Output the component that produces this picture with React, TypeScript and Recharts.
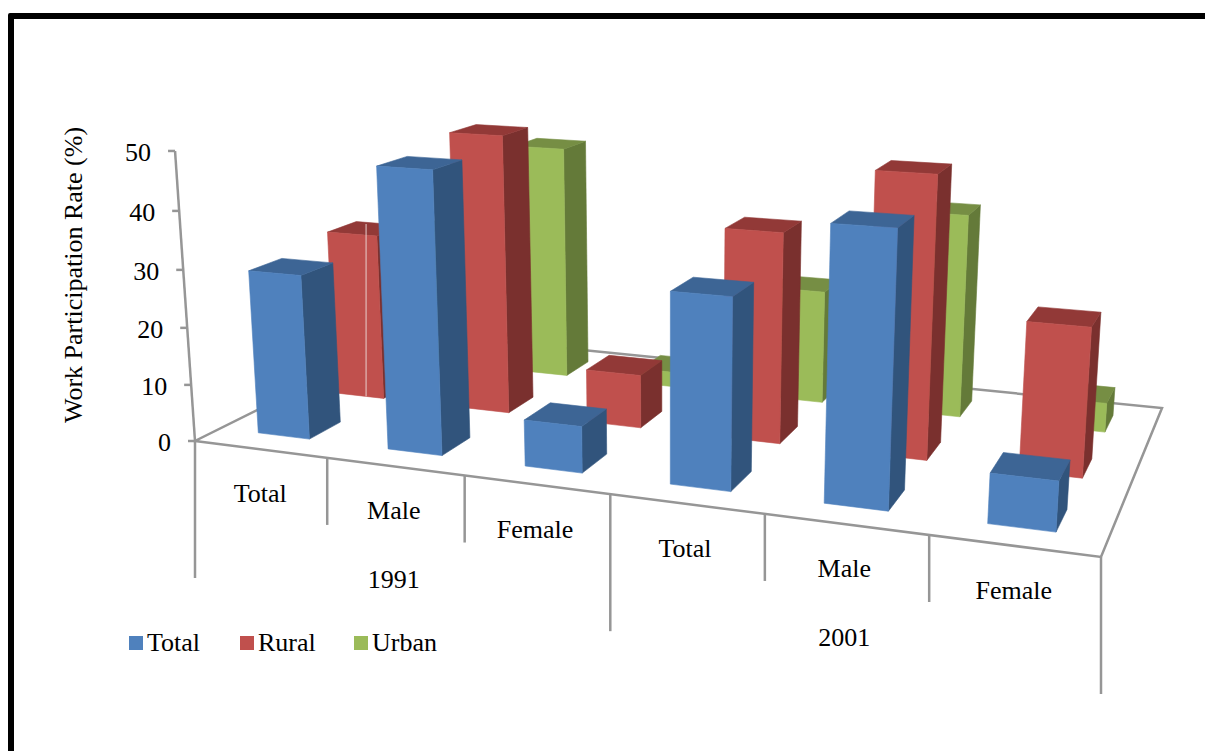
import { Bar, BarChart, Legend, XAxis, YAxis } from "recharts";

const WIDTH = 1205;
const HEIGHT = 751;

const categories = ["Total", "Male", "Female", "Total", "Male", "Female"];
const years = ["1991", "2001"];
const yTicks = [0, 10, 20, 30, 40, 50];

const totalValues = [28.8, 48.2, 7.9, 31.6, 44.1, 8];
const ruralValues = [30.5, 50, 9.5, 36.6, 47.9, 25.1];
const urbanValues = [26, 43.8, 2.8, 20.7, 36.5, 5.2];

const rows = categories.map((name, i) => ({
  name,
  Total: totalValues[i],
  Rural: ruralValues[i],
  Urban: urbanValues[i],
}));

// front, side and top face colours; depth is the row along the floor
const SERIES = [
  { key: "Urban", front: "#9BBB59", side: "#647A39", top: "#768E44", depth: 2 },
  { key: "Rural", front: "#C0504D", side: "#7A302E", top: "#923937", depth: 1 },
  { key: "Total", front: "#4F81BD", side: "#31547C", top: "#3D6595", depth: 0 },
];
const LEGEND_ORDER = ["Total", "Rural", "Urban"];

const GRID = "#969696";
const FONT = "'Liberation Serif', serif";
const FONT_SIZE = 26;

// gap width 150%: a column takes 40% of its slot on both floor directions
const BAR_WIDTH = (WIDTH / categories.length) * 0.4;
const DEPTH_SLOT = 1 / 3;
// inner category dividers sit slightly further along the front edge
const DIVIDER_NUDGE = 0.003;
const LABEL_NUDGE = 0.0015;

// floor corners on screen: front-left, front-right, back-right, back-left
const FLOOR = [
  [195, 441],
  [1101, 557],
  [1162, 408],
  [412, 333],
];
// where the verticals converge, and how far the axis top sits towards it
const V_POINT = [667, 7300];
const V_K = 0.04057;

const [[x0, y0], [x1, y1], [x2, y2], [x3, y3]] = FLOOR;
const dx1 = x1 - x2;
const dx2 = x3 - x2;
const sx = x0 - x1 + x2 - x3;
const dy1 = y1 - y2;
const dy2 = y3 - y2;
const sy = y0 - y1 + y2 - y3;
const den = dx1 * dy2 - dx2 * dy1;
const g = (sx * dy2 - dx2 * sy) / den;
const h = (dx1 * sy - sx * dy1) / den;
const a = x1 - x0 + g * x1;
const b = x3 - x0 + h * x3;
const d = y1 - y0 + g * y1;
const e = y3 - y0 + h * y3;

// u runs along the categories, v into the chart, z up the value axis (all 0..1)
function project(u: number, v: number, z: number): [number, number] {
  const q = z * V_K;
  const w = g * u + h * v + 1 - q;
  return [
    (a * u + b * v + x0 - q * V_POINT[0]) / w,
    (d * u + e * v + y0 - q * V_POINT[1]) / w,
  ];
}

const pts = (list: [number, number][]) =>
  list.map((p) => `${p[0].toFixed(1)},${p[1].toFixed(1)}`).join(" ");

function column(depth: number, colors: { key: string; front: string; side: string; top: string }) {
  const v0 = DEPTH_SLOT * (depth + 0.3);
  const v1 = DEPTH_SLOT * (depth + 0.7);
  return (props: any) => {
    const { x, y, width, height, index } = props;
    const u0 = x / WIDTH;
    const u1 = (x + width) / WIDTH;
    const z = (HEIGHT - y) / HEIGHT;
    const z0 = (HEIGHT - y - height) / HEIGHT;
    // hairline seam on the first rural column, running up onto its top face
    const seam = colors.key === "Rural" && index === 0;
    const uSeam = u0 + (u1 - u0) * 0.64;
    const [seamX, seamBottom] = project(uSeam, v0, z0);
    const [, seamTop] = project(uSeam, v1, z);
    return (
      <g strokeWidth={0.6} strokeLinejoin="round">
        <polygon
          fill={colors.side}
          stroke={colors.side}
          points={pts([project(u1, v0, z0), project(u1, v1, z0), project(u1, v1, z), project(u1, v0, z)])}
        />
        <polygon
          fill={colors.top}
          stroke={colors.top}
          points={pts([project(u0, v0, z), project(u1, v0, z), project(u1, v1, z), project(u0, v1, z)])}
        />
        <polygon
          fill={colors.front}
          stroke={colors.front}
          points={pts([project(u0, v0, z0), project(u1, v0, z0), project(u1, v0, z), project(u0, v0, z)])}
        />
        {seam && <line x1={seamX} y1={seamBottom} x2={seamX} y2={seamTop} stroke="#E8CFCE" strokeWidth={1} />}
      </g>
    );
  };
}

function CategoryTick({ x, payload, index }: any) {
  const u = x / WIDTH;
  const band = 1 / categories.length;
  const [cx, cy] = project(u + LABEL_NUDGE, 0, 0);
  const [lx, ly] = project(u - band / 2 + (index > 0 ? DIVIDER_NUDGE : 0), 0, 0);
  const [rx, ry] = project(u + band / 2, 0, 0);
  const long = index % 3 === 0;
  return (
    <g fontFamily={FONT} fontSize={FONT_SIZE} fill="#000" textAnchor="middle">
      <line x1={lx} y1={ly} x2={lx} y2={ly + (long ? 137 : 67)} stroke={GRID} strokeWidth={2.5} />
      {index === categories.length - 1 && (
        <line x1={rx} y1={ry} x2={rx} y2={ry + 137} stroke={GRID} strokeWidth={2.5} />
      )}
      <text x={cx} y={cy + 53}>
        {payload.value}
      </text>
      {index % 3 === 1 && (
        <text x={cx} y={cy + 121.5}>
          {years[(index - 1) / 3]}
        </text>
      )}
    </g>
  );
}

function ValueTick({ y, payload }: any) {
  const [px, py] = project(0, 0, (HEIGHT - y) / HEIGHT);
  return (
    <g>
      <line x1={px - 7} y1={py} x2={px} y2={py} stroke={GRID} strokeWidth={2.5} />
      <text x={px - 24} y={py + 10} textAnchor="end" fontFamily={FONT} fontSize={FONT_SIZE} fill="#000">
        {payload.value}
      </text>
    </g>
  );
}

function LegendRow({ payload }: any) {
  const items = LEGEND_ORDER.map((name) => payload.find((p: any) => p.value === name)).filter(Boolean);
  const gaps = [147, 258, 372];
  return (
    <div style={{ position: "relative", width: 500, height: 30, fontFamily: FONT, fontSize: FONT_SIZE }}>
      {items.map((item: any, i: number) => (
        <span key={item.value}>
          <span
            style={{
              position: "absolute",
              left: gaps[i] - 18,
              top: 7,
              width: 14,
              height: 14,
              background: item.color,
            }}
          />
          <span style={{ position: "absolute", left: gaps[i], top: 0, lineHeight: "28px" }}>{item.value}</span>
        </span>
      ))}
    </div>
  );
}

export default function App() {
  const axisTop = project(0, 0, 1);
  const floor = FLOOR as [number, number][];
  return (
    <div style={{ position: "absolute", left: 0, top: 0, width: WIDTH, height: HEIGHT, overflow: "hidden", background: "#fff" }}>
      <div
        style={{
          position: "absolute",
          left: 8,
          top: 13,
          width: WIDTH,
          height: HEIGHT,
          border: "6px solid #000",
          borderRadius: 2,
        }}
      />
      <BarChart
        width={WIDTH}
        height={HEIGHT}
        data={rows}
        margin={{ top: 0, right: 0, bottom: -1, left: -1 }}
        barSize={BAR_WIDTH}
        barGap={-BAR_WIDTH}
        style={{ position: "absolute", left: 0, top: 0 }}
      >
        <polygon points={pts(floor)} fill="none" stroke={GRID} strokeWidth={2.5} />
        <line x1={x0} y1={y0} x2={axisTop[0]} y2={axisTop[1]} stroke={GRID} strokeWidth={2.5} />
        <text
          transform="translate(82 275) rotate(-90)"
          textAnchor="middle"
          fontFamily={FONT}
          fontSize={FONT_SIZE}
          fill="#000"
        >
          Work Participation Rate (%)
        </text>
        <XAxis dataKey="name" height={1} axisLine={false} tickLine={false} interval={0} tick={CategoryTick} />
        <YAxis width={1} domain={[0, 50]} ticks={yTicks} axisLine={false} tickLine={false} interval={0} tick={ValueTick} />
        <Legend
          content={LegendRow}
          layout="horizontal"
          verticalAlign="middle"
          align="center"
          wrapperStyle={{ position: "absolute", left: 0, top: 629, width: 500, bottom: "auto" }}
        />
        {SERIES.map((s) => (
          <Bar
            key={s.key}
            dataKey={s.key}
            name={s.key}
            fill={s.front}
            isAnimationActive={false}
            shape={column(s.depth, s)}
          />
        ))}
      </BarChart>
    </div>
  );
}
